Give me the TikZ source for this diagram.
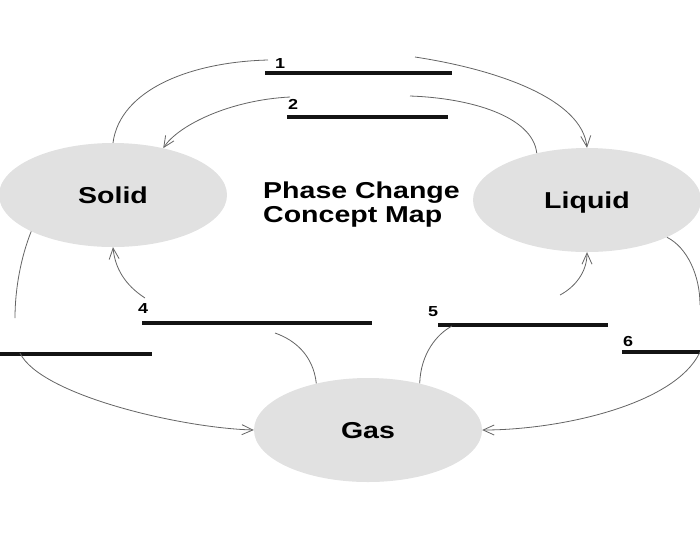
\documentclass[tikz,border=0pt]{standalone}
\usepackage{fontspec}
\newfontfamily\wide{Liberation Sans}[FakeStretch=1.24]
\usetikzlibrary{arrows.meta,shapes.geometric}
\definecolor{ellfill}{RGB}{225,225,225}
\definecolor{arrgray}{RGB}{100,100,100}
\definecolor{blankink}{RGB}{20,20,20}
\tikzset{
  phase/.style={ellipse, fill=ellfill, draw=none, inner sep=0pt,
    minimum width=228pt, minimum height=104pt,
    font=\wide\bfseries\fontsize{23}{24}\selectfont,
    text height=16pt, text depth=0pt},
  titletext/.style={anchor=base west, inner sep=0pt,
    font=\wide\bfseries\fontsize{23}{24}\selectfont},
  numtext/.style={anchor=base, inner sep=0pt,
    font=\wide\bfseries\fontsize{14.5}{15}\selectfont},
  blank/.style={draw=blankink, line width=3.2pt},
  link/.style={draw=arrgray, line width=0.8pt},
  linkhead/.style={link, -{Straight Barb[length=11pt,width=10pt,line width=0.8pt]}}
}
\begin{document}
\begin{tikzpicture}[x=1pt,y=-1pt]
\useasboundingbox (0,0) rectangle (700,558);
% phases
\node[phase] (solid)  at (113,195) {Solid};
\node[phase] (liquid) at (587,200) {Liquid};
\node[phase] (gas)    at (368,430) {Gas};
% title
\node[titletext] (title1) at (263,198) {Phase Change};
\node[titletext] (title2) at (263,222) {Concept Map};
% blanks
\coordinate (b1l) at (265,73);  \coordinate (b1r) at (452,73);
\coordinate (b2l) at (287,117); \coordinate (b2r) at (448,117);
\coordinate (b3l) at (0,354);   \coordinate (b3r) at (152,354);
\coordinate (b4l) at (142,323); \coordinate (b4r) at (372,323);
\coordinate (b5l) at (438,325); \coordinate (b5r) at (608,325);
\coordinate (b6l) at (622,352); \coordinate (b6r) at (700,352);
\draw[blank] (b1l) -- (b1r);
\draw[blank] (b2l) -- (b2r);
\draw[blank] (b3l) -- (b3r);
\draw[blank] (b4l) -- (b4r);
\draw[blank] (b5l) -- (b5r);
\draw[blank] (b6l) -- (b6r);
% numbers
\node[numtext] (n1) at (280,68)  {1};
\node[numtext] (n2) at (293,109) {2};
\node[numtext] (n4) at (143,313) {4};
\node[numtext] (n5) at (433,316) {5};
\node[numtext] (n6) at (628,346) {6};
% free ends of connectors
\coordinate (c1a) at (268,60);  \coordinate (c1b) at (415,57);
\coordinate (c2a) at (410,96);  \coordinate (c2b) at (290,97);
\coordinate (c3a) at (15,318);  \coordinate (c3b) at (20,353);
\coordinate (c4a) at (275,333); \coordinate (c4b) at (145,298);
\coordinate (c5a) at (452,326); \coordinate (c5b) at (560,295);
\coordinate (c6a) at (700,305); \coordinate (c6b) at (700,352);
% 1: solid -> liquid
\draw[link] (solid.north) .. controls +(7,-53) and +(-78,2) .. (c1a);
\draw[linkhead] (c1b) .. controls +(85,13) and +(-5,-48) .. (liquid.north);
% 2: liquid -> solid
\draw[link] (liquid.137) .. controls +(-4,-37) and +(60,2) .. (c2a);
\draw[linkhead] (c2b) .. controls +(-60,3) and +(15,-23) .. (solid.43);
% 3: solid -> gas
\draw[link] (solid.204) .. controls +(-10,25) and +(0,-30) .. (c3a);
\draw[linkhead] (c3b) .. controls +(20,42) and +(-73,-2) .. (gas.west);
% 4: gas -> solid
\draw[link] (gas.138) .. controls +(-3,-28) and +(20,7) .. (c4a);
\draw[linkhead] (c4b) .. controls +(-20,-13) and +(2,21) .. (solid.south);
% 5: gas -> liquid
\draw[link] (gas.42) .. controls +(1,-30) and +(-15,8) .. (c5a);
\draw[linkhead] (c5b) .. controls +(15,-8) and +(0,20) .. (liquid.south);
% 6: liquid -> gas
\draw[link] (liquid.-25) .. controls +(20,10) and +(0,-30) .. (c6a);
\draw[linkhead] (c6b) .. controls +(-25,53) and +(77,0) .. (gas.east);
\end{tikzpicture}
\end{document}
